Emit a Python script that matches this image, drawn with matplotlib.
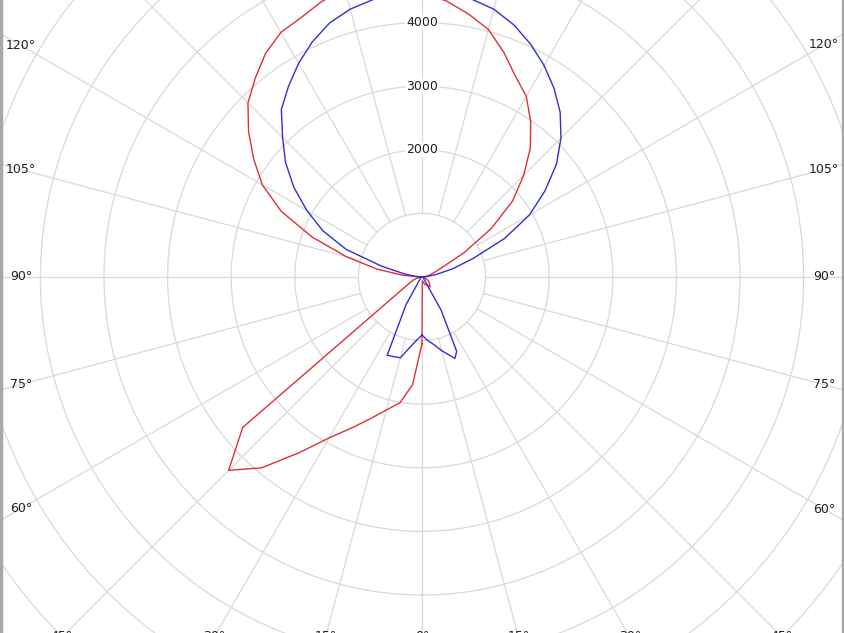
#!/usr/bin/env python3

"""
Polar luminous intensity diagram (cd) for two C-planes.
Drawn on a polar axes that is larger than the figure, so only the
central part of the diagram is visible, as in the reference picture.
"""

import numpy as np
import matplotlib
matplotlib.use('Agg')
import matplotlib.pyplot as plt
from matplotlib.patches import Rectangle

# Gamma angles (deg) for the upper hemisphere
GAMMA_UPPER = [90, 95, 100, 105, 110, 115, 120, 125, 130, 135,
               140, 145, 150, 155, 160, 165, 170, 175, 180]

# Blue plane, right half (cd)
BLUE_RIGHT_LOWER_GAMMA = [0, 5, 10, 15, 20, 22, 25, 30, 35, 45, 60, 75, 90]
BLUE_RIGHT_LOWER_CD = [912, 1000, 1080, 1200, 1320, 1380, 1290, 600, 100, 40, 30, 20, 0]
BLUE_RIGHT_UPPER_CD = [0, 80, 220, 500, 860, 1430, 1950, 2360, 2760, 3090,
                       3380, 3620, 3840, 4040, 4220, 4360, 4440, 4470, 4470]

# Blue plane, left half (cd)
BLUE_LEFT_LOWER_GAMMA = [0, 5, 10, 15, 20, 24, 30, 35, 45, 60, 75, 90]
BLUE_LEFT_LOWER_CD = [912, 1000, 1130, 1315, 1330, 1346, 500, 100, 40, 30, 20, 0]
BLUE_LEFT_UPPER_CD = [0, 100, 280, 660, 1270, 1720, 2090, 2460, 2800, 3100,
                      3440, 3660, 3880, 4080, 4250, 4360, 4430, 4460, 4470]

# Red plane, right half (cd)
RED_RIGHT_LOWER_GAMMA = [0, 5, 20, 40, 60, 80, 90]
RED_RIGHT_LOWER_CD = [1050, 60, 120, 200, 120, 40, 0]
RED_RIGHT_UPPER_CD = [0, 40, 80, 130, 200, 330, 760, 1330, 1860, 2260,
                      2650, 2980, 3280, 3480, 3760, 4030, 4200, 4360, 4450]

# Red plane, left half (cd)
RED_LEFT_LOWER_GAMMA = [0, 5, 10, 15, 20, 25, 30, 35, 40, 45, 50, 55, 60, 65, 70, 75, 80, 85, 90]
RED_LEFT_LOWER_CD = [1050, 1700, 2010, 2165, 2370, 2620, 2920, 3375, 3915, 4300,
                     3680, 550, 300, 200, 150, 100, 60, 30, 0]
RED_LEFT_UPPER_CD = [0, 300, 720, 1230, 1840, 2440, 2900, 3230, 3560, 3870,
                     4080, 4290, 4440, 4500, 4610, 4680, 4650, 4550, 4450]

# Grid and labels
RING_VALUES = [1000, 2000, 3000, 4000, 5000, 6000, 7000, 8000, 9000]
RING_LABELS = [2000, 3000, 4000]
SIDE_ANGLES = [60, 75, 90, 105, 120]
BOTTOM_ANGLES = [0, 15, 30, 45]

# Layout (pixels)
FIG_W, FIG_H = 844, 633
CENTER_X, CENTER_Y = 422, 277        # from top-left
PX_PER_CD = 63.6 / 1000.0
R_MAX = 9000
BOTTOM_LABEL_Y = 637                 # labels sit on the bottom edge, mostly cut off

GRID_COLOR = '#d9d9d9'
TEXT_COLOR = '#1e1e1e'
BLUE = '#3030d0'
RED = '#e03035'


def plane_curve(lower_gamma, lower_cd, upper_cd, side):
    """Return theta (rad) and r for one half plane; side=+1 right, -1 left."""
    gamma = list(lower_gamma) + GAMMA_UPPER[1:]
    cd = list(lower_cd) + list(upper_cd[1:])
    theta = side * np.radians(gamma)
    return theta, np.array(cd, dtype=float)


def full_curve(right, left):
    """Join right half (0->180) and left half (180->0) into one path."""
    t_r, r_r = right
    t_l, r_l = left
    theta = np.concatenate([t_r, t_l[::-1]])
    r = np.concatenate([r_r, r_l[::-1]])
    return theta, r


def draw_grid(ax):
    t = np.linspace(0, 2 * np.pi, 721)
    for ring in RING_VALUES:
        ax.plot(t, np.full_like(t, ring), color=GRID_COLOR, lw=0.9, zorder=1)
    for a in range(0, 360, 15):
        th = np.radians(a)
        ax.plot([th, th], [RING_VALUES[0], R_MAX], color=GRID_COLOR, lw=0.9, zorder=1)


def draw_labels(ax):
    font = dict(fontsize=9, color=TEXT_COLOR, ha='center', va='center', zorder=5)
    for val in RING_LABELS:
        ax.text(np.pi, val, str(val),
                bbox=dict(facecolor='white', edgecolor='none', pad=0.6), **font)

    # angle labels along the spokes, near the left / right edges
    for g in SIDE_ANGLES:
        s = np.sin(np.radians(g))
        r_left = (CENTER_X - 21) / s / PX_PER_CD
        r_right = (FIG_W - 20 - CENTER_X) / s / PX_PER_CD
        ax.text(-np.radians(g), r_left, f'{g}°', **font)
        ax.text(np.radians(g), r_right, f'{g}°', **font)

    # angle labels along the spokes at the bottom edge (mostly cut off)
    for g in BOTTOM_ANGLES:
        r_b = (BOTTOM_LABEL_Y - CENTER_Y) / np.cos(np.radians(g)) / PX_PER_CD
        ax.text(np.radians(g), r_b, f'{g}°', **font)
        if g:
            ax.text(-np.radians(g), r_b, f'{g}°', **font)


def main():
    fig = plt.figure(figsize=(FIG_W / 100, FIG_H / 100), dpi=100)
    fig.patch.set_facecolor('white')

    radius_px = R_MAX * PX_PER_CD
    cy = FIG_H - CENTER_Y
    ax = fig.add_axes([(CENTER_X - radius_px) / FIG_W, (cy - radius_px) / FIG_H,
                       2 * radius_px / FIG_W, 2 * radius_px / FIG_H],
                      projection='polar')
    ax.set_theta_zero_location('S')
    ax.set_ylim(0, R_MAX)
    ax.set_xticks([])
    ax.set_yticks([])
    ax.grid(False)
    ax.spines['polar'].set_visible(False)

    draw_grid(ax)

    blue = full_curve(
        plane_curve(BLUE_RIGHT_LOWER_GAMMA, BLUE_RIGHT_LOWER_CD, BLUE_RIGHT_UPPER_CD, 1),
        plane_curve(BLUE_LEFT_LOWER_GAMMA, BLUE_LEFT_LOWER_CD, BLUE_LEFT_UPPER_CD, -1))
    red = full_curve(
        plane_curve(RED_RIGHT_LOWER_GAMMA, RED_RIGHT_LOWER_CD, RED_RIGHT_UPPER_CD, 1),
        plane_curve(RED_LEFT_LOWER_GAMMA, RED_LEFT_LOWER_CD, RED_LEFT_UPPER_CD, -1))

    ax.plot(*red, color=RED, lw=1.0, zorder=3)
    ax.plot(*blue, color=BLUE, lw=1.0, zorder=3)

    draw_labels(ax)

    # thin gray frame on the left and right edges
    for x0 in (0, FIG_W - 2):
        fig.add_artist(Rectangle((x0 / FIG_W, 0), 2 / FIG_W, 1,
                                 transform=fig.transFigure, color='#a8a8a8', zorder=10))

    fig.savefig('out.png', dpi=100)
    plt.close(fig)


if __name__ == '__main__':
    main()
